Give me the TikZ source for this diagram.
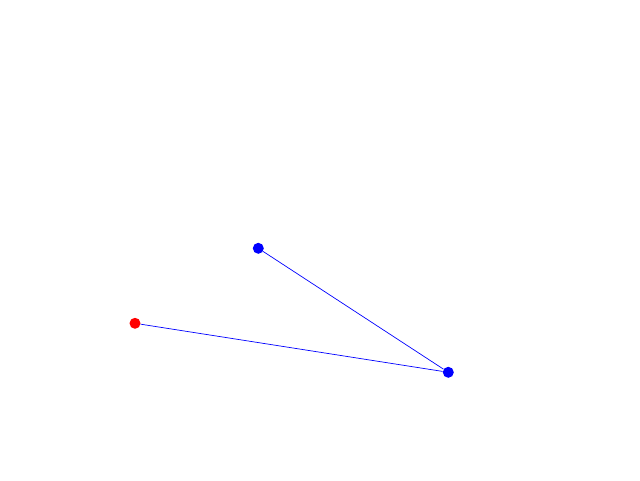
\documentclass[tikz,border=0pt]{standalone}
\begin{document}
\begin{tikzpicture}[x=1pt,y=1pt,
  dot/.style={circle,inner sep=0pt,minimum size=11pt,fill=#1},
  edge/.style={draw=blue,line width=0.7pt}]
\useasboundingbox (0,0) rectangle (640,480);
\fill[white] (0,0) rectangle (640,480);
\node[dot=blue] (a) at (258.3,231.7) {};
\node[dot=red] (b) at (135,156.7) {};
\node[dot=blue] (c) at (448.3,107.7) {};
\draw[edge] (a) -- (c);
\draw[edge] (b) -- (c);
\end{tikzpicture}
\end{document}
